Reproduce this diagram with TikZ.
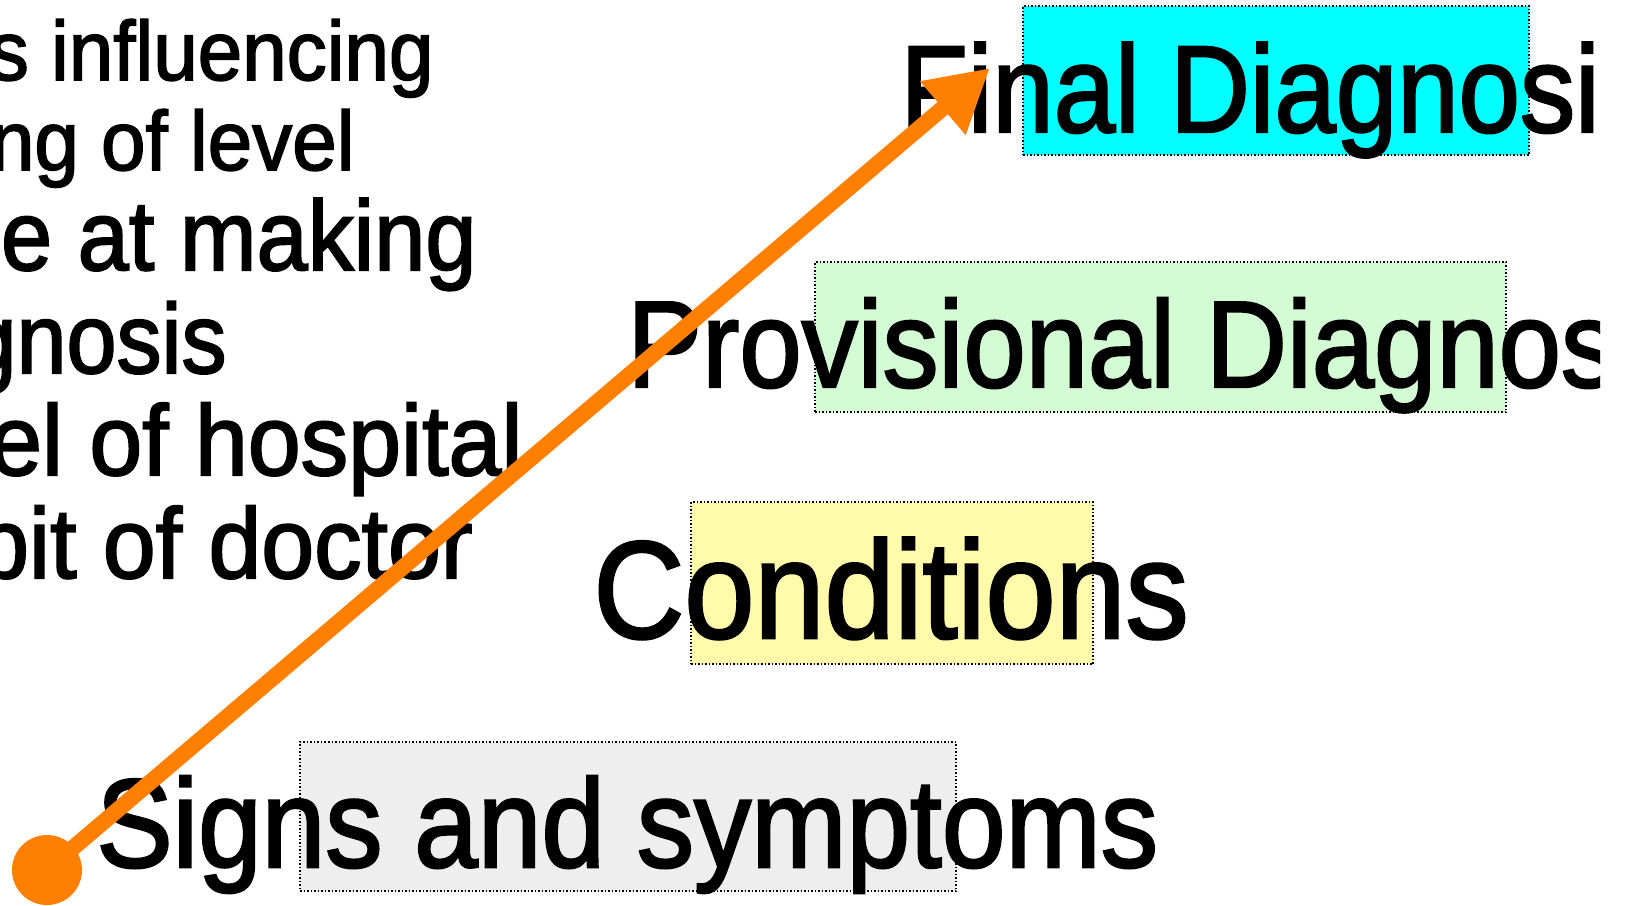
\documentclass[tikz,border=0pt]{standalone}
\usepackage{fontspec}
\setmainfont{Liberation Sans}
\newfontfamily\heavy[FakeBold=2]{Liberation Sans}
\usepackage{tikz}
\usetikzlibrary{positioning}
\usetikzlibrary{arrows.meta}
\definecolor{orange}{RGB}{255,128,0}
\definecolor{cyan}{RGB}{0,255,255}
\definecolor{mint}{RGB}{212,252,212}
\definecolor{lemon}{RGB}{255,251,170}
\definecolor{grey}{RGB}{238,238,238}
\newcommand{\stretched}[2][1.1]{\scalebox{1}[#1]{#2}}

\begin{document}
\begin{tikzpicture}[x=0.5pt,y=-0.5pt]
	\tikzstyle{band}=[draw=black, densely dotted, line width=0.75pt, inner sep=0pt]
	\tikzstyle{stage}=[anchor=base west, inner sep=0pt, font=\heavy\fontsize{56}{60}\selectfont]
	\tikzstyle{note}=[anchor=base east, inner sep=0pt, font=\heavy\fontsize{47.5}{50}\selectfont]
	\tikzstyle{notes}=[note, font=\heavy\fontsize{40}{44}\selectfont]
	
	\useasboundingbox (0,0) rectangle (1627,905);
	\clip (0,0) rectangle (1600,905);
	
	% coloured bands behind the stages
	\draw node at (1276,80.5) [band, fill=cyan, minimum width=253pt, minimum height=74.5pt] (bfinal) {};
	\draw node at (1160.5,337) [band, fill=mint, minimum width=345.5pt, minimum height=75pt] (bprov) {};
	\draw node at (892,583) [band, fill=lemon, minimum width=201pt, minimum height=81pt] (bcond) {};
	\draw node at (628,816.5) [band, fill=grey, minimum width=328pt, minimum height=74.5pt] (bsigns) {};
	
	\draw node at (900,132) [stage, font=\heavy\fontsize{55.2}{60}\selectfont] (final) {\stretched[1.12]{Final Diagnosis}};
	\draw node at (627,387) [stage] (prov) {\stretched{Provisional Diagnosis}};
	\draw node at (593,638) [stage, font=\heavy\fontsize{63}{66}\selectfont] (cond) {\stretched{Conditions}};
	\draw node at (96,867) [stage, font=\heavy\fontsize{57.2}{60}\selectfont] (signs) {\stretched{Signs and symptoms}};
	
	\draw node at (434,80) [notes] (n1) {\stretched[1.05]{s influencing}};
	\draw node at (355,170) [notes] (n2) {\stretched[1.05]{ng of level}};
	\draw node at (477,270) [note, font=\heavy\fontsize{46}{50}\selectfont] (n3) {\stretched[1.08]{e at making}};
	\draw node at (227,373) [note, font=\heavy\fontsize{45}{50}\selectfont] (n4) {\stretched[1.1]{gnosis}};
	\draw node at (523,475) [note] (n5) {\stretched[1.05]{el of hospital}};
	\draw node at (473,578) [note] (n6) {\stretched[1.05]{bit of doctor}};
	
	\draw node at (47,870) [circle, fill=orange, minimum size=35pt, inner sep=0pt] (dot) {};
	\coordinate (tip) at (990,68);
	\draw [orange, line width=8pt, -{Triangle[length=31pt, width=33pt]}] (dot.center) -- (tip);
\end{tikzpicture}
\end{document}
